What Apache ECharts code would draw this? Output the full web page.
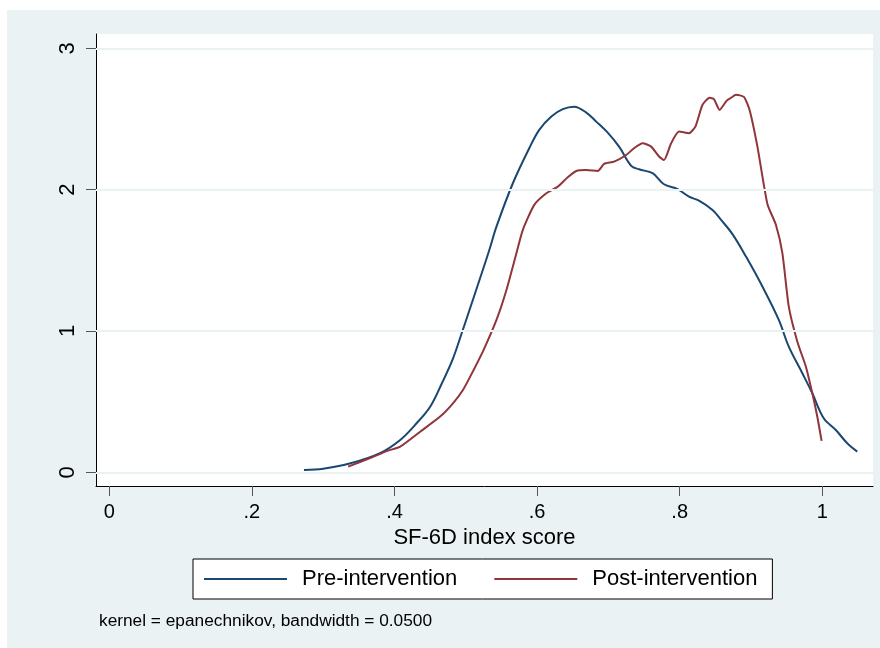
<!DOCTYPE html>
<html>
<head>
<meta charset="utf-8">
<script src="https://cdn.jsdelivr.net/npm/echarts@6/dist/echarts.min.js"></script>
<style>
  html, body { margin: 0; padding: 0; background: #ffffff; width: 880px; height: 648px; overflow: hidden; }
  #chart { position: absolute; left: 7px; top: 10px; width: 873px; height: 638px; }
</style>
</head>
<body>
<div id="chart"></div>
<script>
// ---- data ----
const seriesNames = ['Pre-intervention', 'Post-intervention'];

const preX = [0.273, 0.300, 0.337, 0.379, 0.408, 0.431, 0.450, 0.466, 0.482, 0.494,
  0.506, 0.520, 0.533, 0.543, 0.566, 0.589, 0.603, 0.620, 0.636, 0.652,
  0.669, 0.683, 0.699, 0.715, 0.732, 0.743, 0.762, 0.778, 0.797, 0.813,
  0.827, 0.846, 0.858, 0.874, 0.893, 0.916, 0.939, 0.953, 0.972, 0.986,
  1.002, 1.019, 1.035, 1.049];
const preY = [0.016, 0.025, 0.062, 0.134, 0.229, 0.347, 0.464, 0.625, 0.805, 0.980,
  1.161, 1.373, 1.573, 1.738, 2.045, 2.293, 2.423, 2.517, 2.569, 2.587,
  2.545, 2.481, 2.403, 2.304, 2.168, 2.144, 2.116, 2.038, 2.003, 1.950,
  1.922, 1.856, 1.786, 1.685, 1.526, 1.314, 1.078, 0.889, 0.701, 0.559,
  0.382, 0.299, 0.205, 0.146];

const postX = [0.335, 0.365, 0.391, 0.408, 0.436, 0.464, 0.482, 0.496, 0.511, 0.525,
  0.543, 0.557, 0.571, 0.580, 0.596, 0.613, 0.629, 0.643, 0.655, 0.669,
  0.685, 0.694, 0.708, 0.725, 0.736, 0.748, 0.760, 0.771, 0.778, 0.788,
  0.799, 0.813, 0.822, 0.832, 0.842, 0.848, 0.856, 0.866, 0.872, 0.879,
  0.890, 0.898, 0.909, 0.923, 0.935, 0.944, 0.953, 0.965, 0.977, 0.986,
  0.993, 0.999];
const postY = [0.040, 0.099, 0.153, 0.181, 0.287, 0.394, 0.488, 0.582, 0.724, 0.866,
  1.078, 1.290, 1.550, 1.715, 1.892, 1.974, 2.021, 2.088, 2.132, 2.139,
  2.132, 2.182, 2.198, 2.245, 2.293, 2.328, 2.304, 2.234, 2.210, 2.328,
  2.411, 2.399, 2.446, 2.600, 2.650, 2.640, 2.564, 2.630, 2.650, 2.672,
  2.656, 2.564, 2.304, 1.898, 1.750, 1.550, 1.172, 0.924, 0.747, 0.559,
  0.393, 0.222];

const xTicks = [0, 0.2, 0.4, 0.6, 0.8, 1];
const xTickLabels = ['0', '.2', '.4', '.6', '.8', '1'];
const yTicks = [0, 1, 2, 3];
const yTickLabels = ['0', '1', '2', '3'];
const xTitle = 'SF-6D index score';
const noteText = 'kernel = epanechnikov, bandwidth = 0.0500';

// ---- chart ----
const FONT = '"Liberation Sans", Arial, Helvetica, sans-serif';
const colors = ['#1A476F', '#90353B'];

const pair = (xs, ys) => xs.map((x, i) => [x, ys[i]]);

const chart = echarts.init(document.getElementById('chart'), null, { renderer: 'canvas' });

const option = {
  animation: false,
  backgroundColor: '#EAF2F3',
  textStyle: { fontFamily: FONT },
  grid: {
    left: 89, right: 7, top: 24, bottom: 162,
    show: true, backgroundColor: '#ffffff', borderWidth: 0
  },
  xAxis: {
    type: 'value',
    min: -0.01865, max: 1.0711,
    name: xTitle,
    nameLocation: 'middle',
    nameGap: 36,
    nameTextStyle: { fontSize: 22, color: '#000', fontFamily: FONT },
    axisLine: { show: true, onZero: false, lineStyle: { color: '#000', width: 1 } },
    axisTick: { show: true, length: 10, customValues: xTicks, lineStyle: { color: '#555', width: 1 } },
    axisLabel: {
      customValues: xTicks,
      formatter: (v) => xTickLabels[xTicks.findIndex(t => Math.abs(t - v) < 1e-9)] ?? '',
      fontSize: 20, color: '#000', margin: 16, fontFamily: FONT
    },
    splitLine: { show: false }
  },
  yAxis: {
    type: 'value',
    min: -0.097, max: 3.101,
    axisLine: { show: true, onZero: false, lineStyle: { color: '#000', width: 1 } },
    axisTick: { show: true, length: 10, customValues: yTicks, lineStyle: { color: '#555', width: 1 } },
    axisLabel: {
      customValues: yTicks,
      rotate: 90,
      formatter: (v) => yTickLabels[yTicks.findIndex(t => Math.abs(t - v) < 1e-9)] ?? '',
      fontSize: 22, color: '#000', margin: 17, fontFamily: FONT
    },
    splitLine: { show: false }
  },
  legend: {
    data: seriesNames,
    left: 186, top: 549,
    orient: 'horizontal',
    backgroundColor: '#ffffff',
    borderColor: '#000',
    borderWidth: 1,
    borderRadius: 0,
    padding: [9, 15, 9, 11],
    itemGap: 37,
    itemWidth: 83,
    itemHeight: 2,
    icon: 'rect',
    textStyle: { fontSize: 22, color: '#000', fontFamily: FONT, padding: [0, 0, 0, 10] }
  },
  graphic: [{
    type: 'text',
    left: 92,
    top: 603,
    style: { text: noteText, font: '17.3px ' + FONT, fill: '#000' }
  }],
  series: [
    {
      type: 'line',
      name: '__grid',
      data: [],
      z: 1,
      silent: true,
      markLine: {
        silent: true,
        symbol: ['none', 'none'],
        label: { show: false },
        lineStyle: { color: '#EAF2F3', width: 2, type: 'solid' },
        emphasis: { disabled: true },
        data: yTicks.map(v => ({ yAxis: v }))
      }
    },
    {
      type: 'line',
      name: seriesNames[0],
      data: pair(preX, preY),
      showSymbol: false,
      smooth: 0.35,
      z: 3,
      color: colors[0],
      lineStyle: { color: colors[0], width: 2 }
    },
    {
      type: 'line',
      name: seriesNames[1],
      data: pair(postX, postY),
      showSymbol: false,
      smooth: 0.2,
      z: 3,
      color: colors[1],
      lineStyle: { color: colors[1], width: 2 }
    }
  ]
};
chart.setOption(option);
</script>
</body>
</html>
